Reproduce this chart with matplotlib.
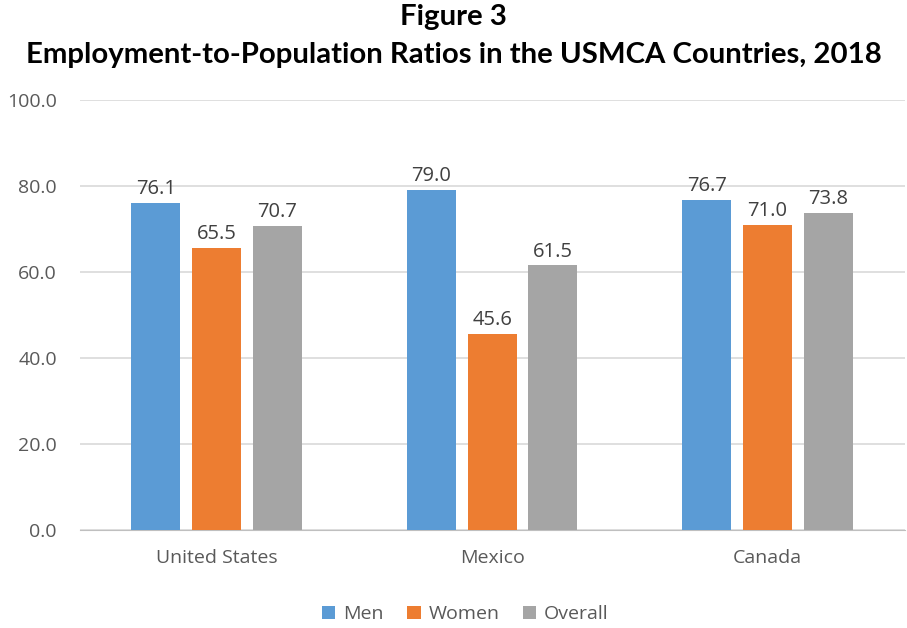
import numpy as np
import matplotlib.pyplot as plt
from matplotlib.patches import Patch

countries = ['United States', 'Mexico', 'Canada']
men = [76.1, 79.0, 76.7]
women = [65.5, 45.6, 71.0]
overall = [70.7, 61.5, 73.8]

series = [('Men', men, '#5B9BD5'), ('Women', women, '#ED7D31'), ('Overall', overall, '#A5A5A5')]

plt.rcParams['font.family'] = ['Open Sans', 'DejaVu Sans']

fig = plt.figure(figsize=(9.07, 6.28), dpi=100)
ax = fig.add_axes([0.088, 0.156, 0.910, 0.685])

x = np.arange(len(countries))
width = 0.178
step = 0.221
for i, (name, vals, col) in enumerate(series):
    pos = x + (i - 1) * step
    bars = ax.bar(pos, vals, width, color=col, zorder=3)
    for b, v in zip(bars, vals):
        ax.text(b.get_x() + b.get_width() / 2, v + 0.9, f'{v:.1f}',
                ha='center', va='bottom', fontsize=14.5, color='#404040')

ax.set_ylim(0, 100)
ax.set_xlim(-0.497, 2.5)
ax.set_yticks(np.arange(0, 101, 20))
ax.set_yticklabels([f'{t:.1f}' for t in np.arange(0, 101, 20)])
ax.set_xticks(x)
ax.set_xticklabels(countries)
ax.tick_params(axis='both', length=0, labelsize=14, colors='#595959')
ax.tick_params(axis='y', pad=16.5)
ax.tick_params(axis='x', pad=14)
ax.grid(axis='y', color='#D9D9D9', linewidth=1.2, zorder=0)
for s in ['left', 'right', 'top']:
    ax.spines[s].set_visible(False)
ax.spines['bottom'].set_color('#BFBFBF')

fig.suptitle('Figure 3\nEmployment-to-Population Ratios in the USMCA Countries, 2018',
             fontsize=21.2, fontweight='bold', family='Lato', y=0.993, linespacing=1.55)

handles = [Patch(facecolor=c, label=n) for n, _, c in series]
fig.legend(handles=handles, loc='center', bbox_to_anchor=(0.513, 0.022), ncol=3,
           frameon=False, fontsize=14, handlelength=0.7, handleheight=0.7,
           handletextpad=0.4, columnspacing=1.2, labelcolor='#595959')

fig.savefig('out.png', dpi=100)
